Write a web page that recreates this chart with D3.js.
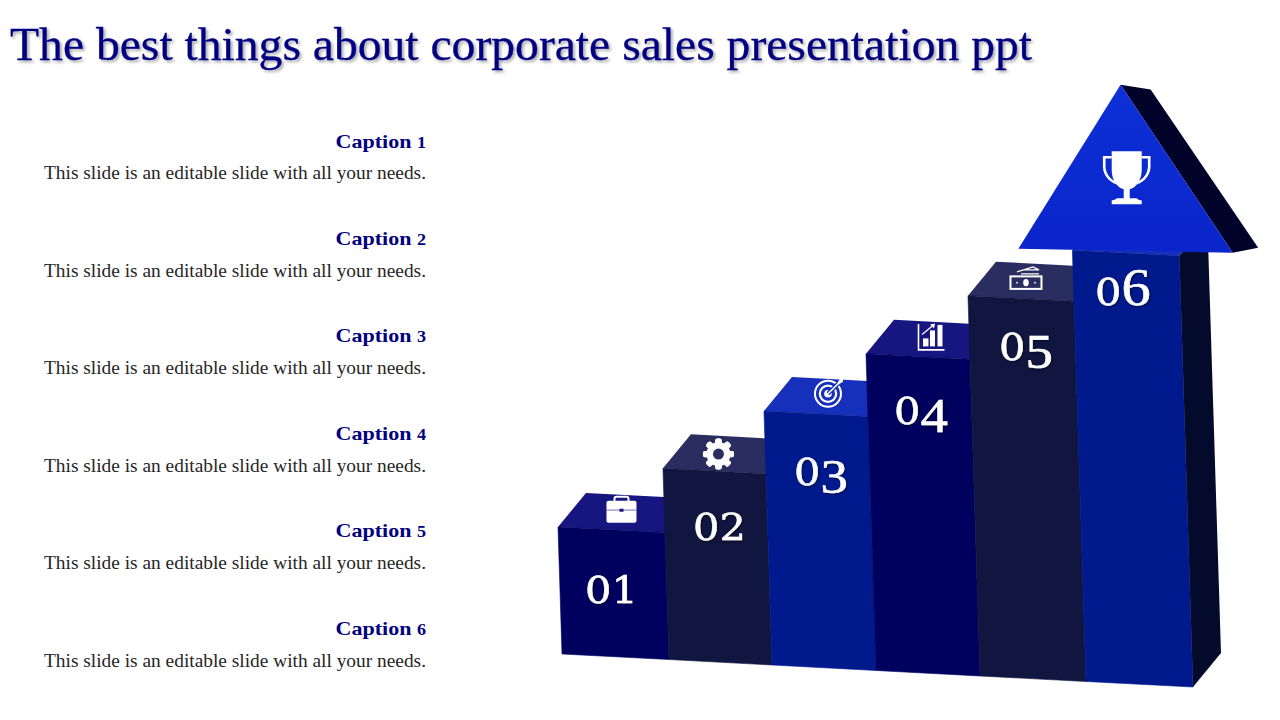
<!DOCTYPE html>
<html>
<head>
<meta charset="utf-8">
<script src="https://cdn.jsdelivr.net/npm/d3@7"></script>
<style>
html, body { margin: 0; padding: 0; background: #fff; }
svg { display: block; }
text { font-family: "Liberation Serif", serif; }
</style>
</head>
<body>
<svg id="stage" width="1280" height="720"></svg>
<script>
// chart values
var titleText = "The best things about corporate sales presentation ppt";
var captions = ["Caption 1", "Caption 2", "Caption 3", "Caption 4", "Caption 5", "Caption 6"];
var bodyText = "This slide is an editable slide with all your needs.";
var stepLabels = ["01", "02", "03", "04", "05", "06"];
var stepValues = [20, 30.1, 40, 49.9, 59.9, 67.9];
var iconNames = ["case", "gear", "target", "growth", "money"];

// arrow head, in the same stop / level units as the bars
var headStops = [4.49, 5.5, 6.5];
var headLevels = [67.7, 94.4, 68.8];
var headBackStops = [5.5, 5.78, 6.74, 6.5];
var headBackLevels = [94.4, 93.9, 69.8, 68.8];
var trophyStop = 5.53;
var trophyLevel = 79.7;

// styles
var frontColors = ["#00005f", "#10163f", "#001a8e", "#00005f", "#10163f", "#001a8e"];
var topColors = ["#17157f", "#2a2d60", "#1730bb", "#17157f", "#2a2d60", "#1730bb"];
var sideColor = "#030a2c";
var headBackColor = "#00022a";
var navy = "#000080";

// layout
var depth = { x: 28, y: -34 };
var lean = 0.0316;
var labelDrop = [73, 69, 71, 67.6, 61.6, 52];
var labelNudge = [0, 5, 5, 3, 5, -3];
var iconNudge = [[-4, -3], [-10, 0], [-2, -3], [-1, -2], [-9, -3]];

var svg = d3.select("#stage");
var defs = svg.append("defs");

var shadow = defs.append("filter").attr("id", "soft")
    .attr("x", "-5%").attr("y", "-20%").attr("width", "110%").attr("height", "150%");
shadow.append("feDropShadow")
    .attr("dx", 2).attr("dy", 2).attr("stdDeviation", 1.6)
    .attr("flood-color", "#000").attr("flood-opacity", 0.35);

var headFill = defs.append("linearGradient").attr("id", "headFill")
    .attr("x1", 0).attr("x2", 0).attr("y1", 0).attr("y2", 1);
headFill.append("stop").attr("offset", "0%").attr("stop-color", "#0d30d8");
headFill.append("stop").attr("offset", "100%").attr("stop-color", "#0a25c9");

// the floor runs slightly downhill and every bar leans a little to the left
var floorX = d3.scaleLinear().domain(d3.range(7)).range([562, 669, 772, 876, 980, 1086, 1193]);
var floorY = d3.scaleLinear().domain([0, 6]).range([654, 687]);
var rise = d3.scaleLinear().domain([0, 100]).range([0, 635]);

function project(stop, level) {
    var h = rise(level);
    return [floorX(stop) - lean * h, floorY(stop) - h];
}
function back(p) {
    return [p[0] + depth.x, p[1] + depth.y];
}
var line = d3.line();
function poly(points) {
    return line(points) + "Z";
}

// titles, stretched a bit because the serif on hand is narrower than the original
svg.append("text")
    .attr("x", 10).attr("y", 60)
    .attr("textLength", 1022).attr("lengthAdjust", "spacingAndGlyphs")
    .attr("font-size", 46)
    .attr("fill", navy)
    .attr("stroke", navy).attr("stroke-width", 0.3)
    .attr("filter", "url(#soft)")
    .text(titleText);

var captionY = d3.scaleLinear().domain([0, 5]).range([147.5, 634.5]);
var bodyY = d3.scaleLinear().domain([0, 5]).range([179, 667]);

var rows = svg.append("g").selectAll("g").data(captions).enter().append("g");

var captionText = rows.append("text")
    .attr("x", 426)
    .attr("y", function (d, i) { return captionY(i); })
    .attr("text-anchor", "end")
    .attr("font-weight", "bold")
    .attr("font-size", 19.5)
    .attr("fill", navy);
captionText.append("tspan").text(function (d) { return d.split(" ")[0] + " "; });
captionText.append("tspan").attr("font-size", 16).text(function (d) { return d.split(" ")[1]; });
captionText.each(function () {
    d3.select(this)
        .attr("textLength", this.getComputedTextLength() * 1.13)
        .attr("lengthAdjust", "spacingAndGlyphs");
});

rows.append("text")
    .attr("x", 426)
    .attr("y", function (d, i) { return bodyY(i); })
    .attr("text-anchor", "end")
    .attr("textLength", 382).attr("lengthAdjust", "spacingAndGlyphs")
    .attr("font-size", 19)
    .attr("fill", "#262626")
    .text(bodyText);

// steps, drawn left to right so that each covers the back of the one before
var steps = svg.append("g").selectAll("g").data(stepValues).enter().append("g");

var lastStop = stepValues.length;
var lastValue = stepValues[lastStop - 1];

steps.append("path")
    .attr("fill", function (d, i) { return topColors[i]; })
    .attr("d", function (d, i) {
        var a = project(i, d), b = project(i + 1, d);
        return poly([a, b, back(b), back(a)]);
    });

steps.append("path")
    .attr("fill", function (d, i) { return frontColors[i]; })
    .attr("stroke", function (d, i) { return frontColors[i]; })
    .attr("stroke-width", 0.6)
    .attr("d", function (d, i) {
        return poly([project(i, 0), project(i + 1, 0), project(i + 1, d), project(i, d)]);
    });

// right side of the last step
svg.append("path")
    .attr("fill", sideColor)
    .attr("d", poly([
        project(lastStop, 0), back(project(lastStop, 0)),
        back(project(lastStop, lastValue)), project(lastStop, lastValue)
    ]));

// arrow head
svg.append("path")
    .attr("fill", headBackColor)
    .attr("d", poly(headBackStops.map(function (s, i) { return project(s, headBackLevels[i]); })));
svg.append("path")
    .attr("fill", "url(#headFill)")
    .attr("d", poly(headStops.map(function (s, i) { return project(s, headLevels[i]); })));

// step numbers: old style figures are faked digit by digit
var labelShadow = defs.append("filter").attr("id", "numShadow");
labelShadow.append("feDropShadow")
    .attr("dx", 1).attr("dy", 1).attr("stdDeviation", 0.8)
    .attr("flood-color", "#000").attr("flood-opacity", 0.6);

var numbers = svg.append("g").selectAll("text").data(stepLabels).enter().append("text")
    .attr("text-anchor", "middle")
    .attr("fill", "#fff")
    .attr("stroke", "#fff").attr("stroke-width", 0.5)
    .attr("filter", "url(#numShadow)")
    .attr("x", function (d, i) { return project(i + 0.5, stepValues[i])[0] + labelNudge[i]; })
    .attr("y", function (d, i) { return project(i + 0.5, stepValues[i])[1] + labelDrop[i]; });

numbers.each(function (d) {
    var t = d3.select(this);
    d.split("").forEach(function (c) {
        var span = t.append("tspan").text(c);
        if ("345".indexOf(c) >= 0) {
            span.attr("font-size", 49).attr("dy", 8);
        } else if (c === "6") {
            span.attr("font-size", 52);
        } else {
            span.attr("font-family", "DejaVu Serif").attr("font-size", 37);
        }
    });
    t.attr("textLength", this.getComputedTextLength() * 1.12)
        .attr("lengthAdjust", "spacingAndGlyphs");
});

// icons, drawn around their own centre
var iconDraw = {
    "case": function (g, bg) {
        g.append("rect").attr("x", -7).attr("y", -13).attr("width", 14).attr("height", 8).attr("rx", 2)
            .attr("fill", "none").attr("stroke", "#fff").attr("stroke-width", 2);
        g.append("rect").attr("x", -15).attr("y", -9).attr("width", 30).attr("height", 22).attr("rx", 2).attr("fill", "#fff");
        g.append("rect").attr("x", -15).attr("y", 0).attr("width", 30).attr("height", 0.6).attr("fill", bg);
        g.append("rect").attr("x", -2).attr("y", -1).attr("width", 4).attr("height", 3).attr("fill", bg);
    },
    "gear": function (g, bg) {
        d3.range(8).forEach(function (k) {
            g.append("rect").attr("x", -3.2).attr("y", -15.5).attr("width", 6.4).attr("height", 31).attr("rx", 2)
                .attr("fill", "#fff").attr("transform", "rotate(" + (k * 45) + ")");
        });
        g.append("circle").attr("r", 12).attr("fill", "#fff");
        g.append("circle").attr("r", 5.5).attr("fill", bg);
    },
    "target": function (g, bg) {
        g.append("circle").attr("r", 13).attr("fill", "none").attr("stroke", "#fff").attr("stroke-width", 2);
        g.append("circle").attr("r", 8.2).attr("fill", "none").attr("stroke", "#fff").attr("stroke-width", 2.2);
        g.append("circle").attr("r", 3.8).attr("fill", "#fff");
        g.append("path").attr("d", "M0,0L12,-12").attr("stroke", bg).attr("stroke-width", 4);
        g.append("path").attr("d", "M0,0L12,-12").attr("stroke", "#fff").attr("stroke-width", 1.6);
        g.append("path").attr("d", "M9,-10L12,-15L15,-15L15,-12L10,-9Z").attr("fill", "#fff");
    },
    "growth": function (g) {
        g.append("path").attr("fill", "none").attr("stroke", "#fff").attr("stroke-width", 1.6)
            .attr("d", "M-12.5,-13.5V12.5H13.5");
        g.append("rect").attr("x", -8).attr("y", 1).attr("width", 5.5).attr("height", 8).attr("fill", "#fff");
        g.append("rect").attr("x", -1).attr("y", -7).attr("width", 5).attr("height", 16).attr("fill", "#fff");
        g.append("rect").attr("x", 6.5).attr("y", -12.5).attr("width", 5).attr("height", 21.5).attr("fill", "#fff");
        g.append("path").attr("d", "M-9,-3L2,-12").attr("stroke", "#fff").attr("stroke-width", 1.3);
        g.append("path").attr("d", "M-1,-13L4,-14L3,-9Z").attr("fill", "#fff");
    },
    "money": function (g) {
        g.append("rect").attr("x", -15.5).attr("y", -2).attr("width", 31).attr("height", 12.5)
            .attr("fill", "none").attr("stroke", "#fff").attr("stroke-width", 2);
        g.append("ellipse").attr("cx", 0).attr("cy", 4.3).attr("rx", 2.8).attr("ry", 3.6).attr("fill", "#fff");
        g.append("circle").attr("cx", -9).attr("cy", 4.3).attr("r", 0.9).attr("fill", "#fff");
        g.append("circle").attr("cx", 9).attr("cy", 4.3).attr("r", 0.9).attr("fill", "#fff");
        g.append("path").attr("fill", "none").attr("stroke", "#fff").attr("stroke-width", 1.4)
            .attr("d", "M-9,-6.5L7,-11.5L13,-8.5L-2,-8.5M-5,-4.5H13");
    }
};

var icons = svg.append("g").selectAll("g").data(iconNames).enter().append("g")
    .attr("transform", function (d, i) {
        var p = back(project(i + 0.5, stepValues[i]));
        return "translate(" + (p[0] - depth.x / 2 + iconNudge[i][0]) + "," +
            (p[1] - depth.y / 2 + iconNudge[i][1]) + ")";
    });
icons.each(function (d, i) {
    iconDraw[d](d3.select(this), topColors[i]);
});

// trophy on the arrow head
var trophyAt = project(trophyStop, trophyLevel);
var trophy = svg.append("g")
    .attr("transform", "translate(" + trophyAt[0] + "," + trophyAt[1] + ")");
trophy.append("path").attr("fill", "#fff")
    .attr("d", "M-15,-27H15V-8C15,3 8,10 3,11V20H9C11,20 11,22 15,22V26H-15V22C-11,22 -11,20 -9,20H-3V11C-8,10 -15,3 -15,-8Z");
trophy.append("path").attr("fill", "none").attr("stroke", "#fff").attr("stroke-width", 2.6)
    .attr("d", "M-15,-21H-22.5V-12C-22.5,-2 -15,4 -6,6M15,-21H22.5V-12C22.5,-2 15,4 6,6");
</script>
</body>
</html>
